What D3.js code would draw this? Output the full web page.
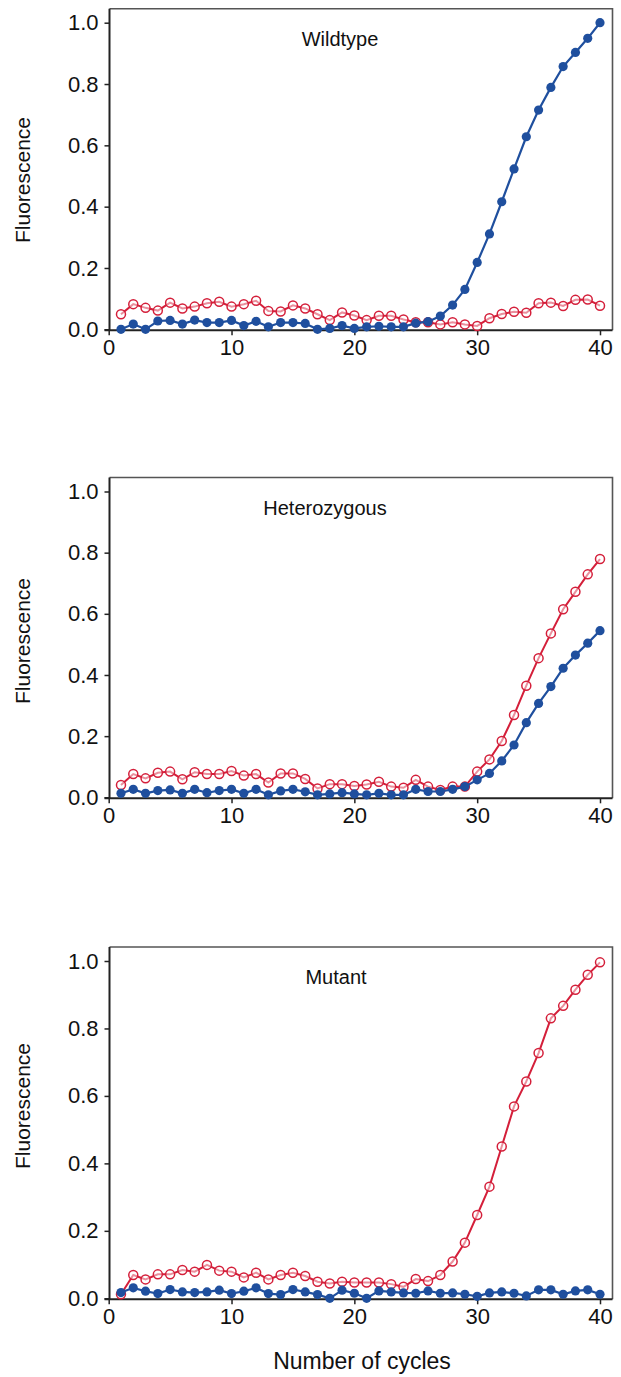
<!DOCTYPE html>
<html>
<head>
<meta charset="utf-8">
<script src="https://cdn.jsdelivr.net/npm/d3@7"></script>
<style>
  html, body { margin: 0; padding: 0; background: #ffffff; }
  svg { display: block; }
  text { font-family: "Liberation Sans", Arial, Helvetica, sans-serif; fill: #111; }
</style>
</head>
<body>
<svg id="chart" width="621" height="1377"></svg>
<script>
// ---------------- data ----------------
const cycles = d3.range(1, 41);
const xTicks = [0, 10, 20, 30, 40];
const yTicks = [0, 0.2, 0.4, 0.6, 0.8, 1.0];
const panelTitles = ["Wildtype", "Heterozygous", "Mutant"];
const yAxisLabel = "Fluorescence";
const xAxisLabel = "Number of cycles";

// Wildtype
const wildtypeBlue = [0.000, 0.017, 0.000, 0.027, 0.029, 0.017, 0.030, 0.022, 0.022, 0.029,
                      0.012, 0.026, 0.008, 0.022, 0.022, 0.019, 0.000, 0.003, 0.012, 0.003,
                      0.008, 0.010, 0.008, 0.008, 0.020, 0.025, 0.043, 0.079, 0.130, 0.218,
                      0.311, 0.416, 0.523, 0.628, 0.715, 0.789, 0.857, 0.903, 0.949, 1.000];
const wildtypeRed  = [0.049, 0.082, 0.070, 0.061, 0.087, 0.068, 0.074, 0.085, 0.090, 0.074,
                      0.082, 0.093, 0.060, 0.058, 0.078, 0.068, 0.049, 0.030, 0.055, 0.045,
                      0.030, 0.044, 0.044, 0.032, 0.023, 0.023, 0.016, 0.023, 0.016, 0.011,
                      0.036, 0.050, 0.057, 0.054, 0.085, 0.087, 0.076, 0.096, 0.097, 0.077];
// Heterozygous
const heteroBlue   = [0.013, 0.026, 0.013, 0.022, 0.024, 0.013, 0.026, 0.015, 0.022, 0.026,
                      0.013, 0.026, 0.008, 0.021, 0.026, 0.018, 0.008, 0.011, 0.015, 0.011,
                      0.008, 0.013, 0.008, 0.008, 0.026, 0.019, 0.019, 0.026, 0.035, 0.057,
                      0.078, 0.119, 0.171, 0.244, 0.307, 0.362, 0.422, 0.465, 0.504, 0.545];
const heteroRed    = [0.040, 0.076, 0.062, 0.080, 0.084, 0.059, 0.082, 0.076, 0.076, 0.086,
                      0.071, 0.076, 0.048, 0.078, 0.078, 0.060, 0.029, 0.043, 0.043, 0.037,
                      0.042, 0.051, 0.035, 0.031, 0.057, 0.035, 0.024, 0.035, 0.035, 0.084,
                      0.124, 0.184, 0.269, 0.365, 0.455, 0.536, 0.615, 0.672, 0.729, 0.779];
// Mutant
const mutantBlue   = [0.017, 0.031, 0.021, 0.014, 0.026, 0.019, 0.017, 0.019, 0.024, 0.014,
                      0.021, 0.031, 0.014, 0.011, 0.026, 0.019, 0.011, 0.000, 0.024, 0.015,
                      0.000, 0.022, 0.019, 0.016, 0.015, 0.022, 0.015, 0.016, 0.012, 0.006,
                      0.016, 0.019, 0.015, 0.007, 0.025, 0.025, 0.012, 0.022, 0.025, 0.012];
const mutantRed    = [0.012, 0.069, 0.056, 0.071, 0.071, 0.084, 0.079, 0.099, 0.082, 0.079,
                      0.062, 0.076, 0.056, 0.069, 0.076, 0.066, 0.049, 0.044, 0.049, 0.047,
                      0.047, 0.047, 0.042, 0.034, 0.057, 0.051, 0.069, 0.109, 0.165, 0.247,
                      0.331, 0.450, 0.569, 0.643, 0.727, 0.830, 0.867, 0.915, 0.959, 0.996];

const blueSeries = [wildtypeBlue, heteroBlue, mutantBlue];
const redSeries  = [wildtypeRed, heteroRed, mutantRed];

// ---------------- layout ----------------
const BLUE = "#1f4f9e";
const RED = "#d41f3a";
const svg = d3.select("#chart");

const x = d3.scaleLinear().domain([0, 40]).range([108.7, 600]);
const frameLeft = 109.5, frameRight = 612.5;

const panels = [
  { y1: 22.7, y0: 329.3, titleX: 340, labelY: 180 },
  { y1: 491.5, y0: 797.3, titleX: 325, labelY: 641 },
  { y1: 961, y0: 1298.3, titleX: 336, labelY: 1106 }
];

panels.forEach((p, i) => {
  const y = d3.scaleLinear().domain([0, 1]).range([p.y0, p.y1]);
  const g = svg.append("g");
  const top = p.y1 - 14;

  // frame (top & right lighter)
  g.append("path")
    .attr("d", `M${frameLeft},${top} H${frameRight} V${p.y0 + 1}`)
    .attr("fill", "none").attr("stroke", "#555").attr("stroke-width", 1.6);

  // y axis
  const ya = g.append("g").attr("transform", `translate(${frameLeft},0)`)
    .call(d3.axisLeft(y).tickValues(yTicks).tickFormat(d3.format(".1f")).tickSize(5).tickPadding(6));
  ya.select(".domain").attr("d", `M0,${top}V${p.y0 + 1}`).attr("stroke", "#222").attr("stroke-width", 2);
  ya.selectAll(".tick line").attr("stroke", "#222").attr("stroke-width", 1.5);
  ya.selectAll(".tick text").style("font-size", "22px").attr("fill", "#111");

  // x axis
  const xa = g.append("g").attr("transform", `translate(0,${p.y0 + 1})`)
    .call(d3.axisBottom(x).tickValues(xTicks).tickSize(5).tickPadding(4));
  xa.select(".domain").attr("d", `M${frameLeft - 5},0H${frameRight}`).attr("stroke", "#222").attr("stroke-width", 2);
  xa.selectAll(".tick line").attr("stroke", "#222").attr("stroke-width", 1.5);
  xa.selectAll(".tick text").style("font-size", "22px").attr("fill", "#111");

  // y label
  g.append("text")
    .attr("transform", `translate(30,${p.labelY}) rotate(-90)`)
    .attr("text-anchor", "middle")
    .style("font-size", "21px")
    .text(yAxisLabel);

  // title
  g.append("text")
    .attr("x", p.titleX).attr("y", p.y1 + 23)
    .attr("text-anchor", "middle")
    .style("font-size", "20px")
    .text(panelTitles[i]);

  const line = d3.line().x((d, k) => x(cycles[k])).y(d => y(d));

  // red series (open circles)
  const red = redSeries[i];
  g.append("path").datum(red).attr("d", line)
    .attr("fill", "none").attr("stroke", RED).attr("stroke-width", 2);
  g.selectAll("circle.red").data(red).join("circle")
    .attr("class", "red")
    .attr("cx", (d, k) => x(cycles[k])).attr("cy", d => y(d))
    .attr("r", 4.5).attr("fill", "#fff").attr("fill-opacity", 0.5)
    .attr("stroke", RED).attr("stroke-width", 1.5);

  // blue series (filled circles)
  const blue = blueSeries[i];
  g.append("path").datum(blue).attr("d", line)
    .attr("fill", "none").attr("stroke", BLUE).attr("stroke-width", 2.2);
  g.selectAll("circle.blue").data(blue).join("circle")
    .attr("class", "blue")
    .attr("cx", (d, k) => x(cycles[k])).attr("cy", d => y(d))
    .attr("r", 4.6).attr("fill", BLUE);
});

// x label
svg.append("text")
  .attr("x", 362).attr("y", 1369)
  .attr("text-anchor", "middle")
  .style("font-size", "23px")
  .text(xAxisLabel);
</script>
</body>
</html>
